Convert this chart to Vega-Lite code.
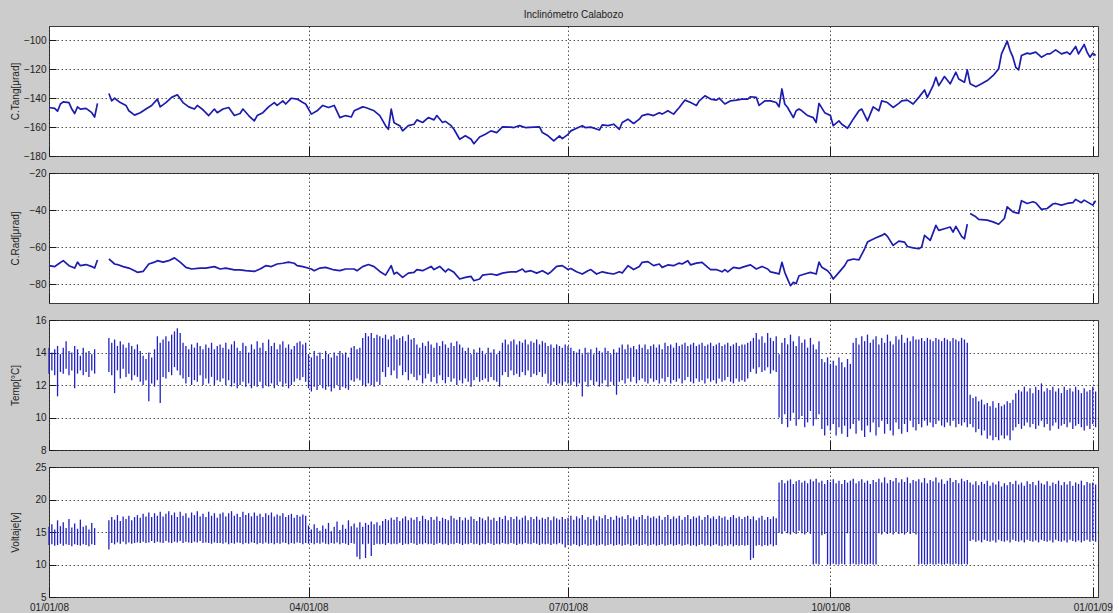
{
"$schema": "https://vega.github.io/schema/vega-lite/v6.json",
"background": "#cccccc",
"padding": {"left": 9, "top": 9, "right": 0, "bottom": 0},
"spacing": 17,
"bounds": "flush",
"config": {
  "font": "Liberation Sans",
  "view": {"fill": "#ffffff", "stroke": "#3a3a3a", "strokeWidth": 1},
  "axis": {
    "domain": false,
    "grid": true, "gridColor": "#1a1a1a", "gridDash": [1.5, 2.5], "gridWidth": 1, "gridOpacity": 0.75,
    "ticks": true, "tickColor": "#1a1a1a", "tickWidth": 1,
    "labelFont": "Liberation Sans", "labelFontSize": 10, "labelColor": "#222222",
    "labelFlush": false, "labelOverlap": false, "labelBound": false,
    "titleFont": "Liberation Sans", "titleFontSize": 10, "titleFontWeight": "normal", "titleColor": "#222222"
  },
  "axisY": {"tickSize": -7, "labelPadding": 10, "minExtent": 23, "maxExtent": 23, "titlePadding": 6},
  "axisX": {"tickSize": -10, "labelPadding": 15}
},
"datasets": {
"tang": [
{"d":"2008-01-01","v":-146.4,"s":1},{"d":"2008-01-03","v":-147,"s":1},{"d":"2008-01-04","v":-149,"s":1},{"d":"2008-01-05","v":-144,"s":1},{"d":"2008-01-06","v":-142.5,"s":1},{"d":"2008-01-08","v":-143,"s":1},{"d":"2008-01-09","v":-147.5,"s":1},{"d":"2008-01-10","v":-150.6,"s":1},{"d":"2008-01-11","v":-146,"s":1},{"d":"2008-01-12","v":-147.5,"s":1},{"d":"2008-01-14","v":-147,"s":1},{"d":"2008-01-16","v":-150,"s":1},{"d":"2008-01-17","v":-153,"s":1},{"d":"2008-01-18","v":-143.6,"s":1},
{"d":"2008-01-22","v":-136.7,"s":2},{"d":"2008-01-23","v":-141.8,"s":2},{"d":"2008-01-24","v":-140,"s":2},{"d":"2008-01-26","v":-143,"s":2},{"d":"2008-01-28","v":-145,"s":2},{"d":"2008-01-29","v":-148.7,"s":2},{"d":"2008-01-31","v":-151.7,"s":2},{"d":"2008-02-02","v":-150,"s":2},{"d":"2008-02-04","v":-147.5,"s":2},{"d":"2008-02-06","v":-145,"s":2},{"d":"2008-02-08","v":-140.6,"s":2},{"d":"2008-02-09","v":-146,"s":2},{"d":"2008-02-11","v":-143,"s":2},{"d":"2008-02-13","v":-139.4,"s":2},{"d":"2008-02-15","v":-137.6,"s":2},{"d":"2008-02-17","v":-143,"s":2},{"d":"2008-02-19","v":-146,"s":2},{"d":"2008-02-21","v":-147.5,"s":2},{"d":"2008-02-22","v":-145,"s":2},{"d":"2008-02-24","v":-148,"s":2},{"d":"2008-02-26","v":-152,"s":2},{"d":"2008-02-28","v":-147.5,"s":2},{"d":"2008-02-29","v":-150,"s":2},
{"d":"2008-03-02","v":-147.5,"s":2},{"d":"2008-03-04","v":-146.4,"s":2},{"d":"2008-03-06","v":-152,"s":2},{"d":"2008-03-08","v":-150.6,"s":2},{"d":"2008-03-09","v":-147.5,"s":2},{"d":"2008-03-11","v":-152,"s":2},{"d":"2008-03-13","v":-155.7,"s":2},{"d":"2008-03-14","v":-152,"s":2},{"d":"2008-03-16","v":-150,"s":2},{"d":"2008-03-18","v":-146,"s":2},{"d":"2008-03-20","v":-143,"s":2},{"d":"2008-03-21","v":-145,"s":2},{"d":"2008-03-23","v":-141.8,"s":2},{"d":"2008-03-24","v":-144,"s":2},{"d":"2008-03-26","v":-140,"s":2},{"d":"2008-03-28","v":-140.6,"s":2},{"d":"2008-03-30","v":-143,"s":2},{"d":"2008-03-31","v":-144,"s":2},
{"d":"2008-04-02","v":-151,"s":2},{"d":"2008-04-04","v":-148.7,"s":2},{"d":"2008-04-06","v":-145,"s":2},{"d":"2008-04-08","v":-146.4,"s":2},{"d":"2008-04-10","v":-145,"s":2},{"d":"2008-04-12","v":-153.4,"s":2},{"d":"2008-04-14","v":-152,"s":2},{"d":"2008-04-16","v":-153,"s":2},{"d":"2008-04-17","v":-148.7,"s":2},{"d":"2008-04-20","v":-146,"s":2},{"d":"2008-04-21","v":-146.4,"s":2},{"d":"2008-04-24","v":-148.7,"s":2},{"d":"2008-04-26","v":-152,"s":2},{"d":"2008-04-28","v":-159,"s":2},{"d":"2008-04-29","v":-161.5,"s":2},{"d":"2008-04-30","v":-147.5,"s":2},
{"d":"2008-05-01","v":-157,"s":2},{"d":"2008-05-03","v":-159,"s":2},{"d":"2008-05-04","v":-162.6,"s":2},{"d":"2008-05-06","v":-159,"s":2},{"d":"2008-05-08","v":-158,"s":2},{"d":"2008-05-09","v":-155,"s":2},{"d":"2008-05-11","v":-156.8,"s":2},{"d":"2008-05-13","v":-153.4,"s":2},{"d":"2008-05-15","v":-155,"s":2},{"d":"2008-05-16","v":-152,"s":2},{"d":"2008-05-18","v":-156.8,"s":2},{"d":"2008-05-19","v":-156,"s":2},{"d":"2008-05-21","v":-159,"s":2},{"d":"2008-05-22","v":-161.5,"s":2},{"d":"2008-05-24","v":-168.4,"s":2},{"d":"2008-05-26","v":-166,"s":2},{"d":"2008-05-28","v":-168.4,"s":2},{"d":"2008-05-29","v":-171.5,"s":2},{"d":"2008-05-31","v":-166.8,"s":2},
{"d":"2008-06-02","v":-165,"s":2},{"d":"2008-06-04","v":-162.6,"s":2},{"d":"2008-06-06","v":-163.8,"s":2},{"d":"2008-06-08","v":-159.9,"s":2},{"d":"2008-06-11","v":-160,"s":2},{"d":"2008-06-12","v":-160.3,"s":2},{"d":"2008-06-14","v":-159,"s":2},{"d":"2008-06-16","v":-160.3,"s":2},{"d":"2008-06-19","v":-160,"s":2},{"d":"2008-06-21","v":-159.9,"s":2},{"d":"2008-06-22","v":-163.8,"s":2},{"d":"2008-06-24","v":-166,"s":2},{"d":"2008-06-26","v":-169.6,"s":2},{"d":"2008-06-28","v":-166,"s":2},{"d":"2008-06-29","v":-168,"s":2},
{"d":"2008-07-01","v":-165,"s":2},{"d":"2008-07-02","v":-162.6,"s":2},{"d":"2008-07-04","v":-160.8,"s":2},{"d":"2008-07-06","v":-159,"s":2},{"d":"2008-07-07","v":-160.3,"s":2},{"d":"2008-07-09","v":-160,"s":2},{"d":"2008-07-12","v":-162,"s":2},{"d":"2008-07-13","v":-158.5,"s":2},{"d":"2008-07-15","v":-159,"s":2},{"d":"2008-07-17","v":-158,"s":2},{"d":"2008-07-19","v":-161.5,"s":2},{"d":"2008-07-20","v":-156.8,"s":2},{"d":"2008-07-22","v":-154.5,"s":2},{"d":"2008-07-24","v":-157.5,"s":2},{"d":"2008-07-26","v":-154.5,"s":2},{"d":"2008-07-27","v":-152,"s":2},{"d":"2008-07-29","v":-151,"s":2},{"d":"2008-07-31","v":-152,"s":2},
{"d":"2008-08-02","v":-150,"s":2},{"d":"2008-08-03","v":-151,"s":2},{"d":"2008-08-05","v":-148.7,"s":2},{"d":"2008-08-07","v":-151,"s":2},{"d":"2008-08-09","v":-146.4,"s":2},{"d":"2008-08-11","v":-141.3,"s":2},{"d":"2008-08-13","v":-143,"s":2},{"d":"2008-08-15","v":-145,"s":2},{"d":"2008-08-16","v":-141.8,"s":2},{"d":"2008-08-18","v":-138.3,"s":2},{"d":"2008-08-20","v":-140.6,"s":2},{"d":"2008-08-22","v":-141.3,"s":2},{"d":"2008-08-23","v":-140,"s":2},{"d":"2008-08-25","v":-144,"s":2},{"d":"2008-08-27","v":-141.8,"s":2},{"d":"2008-08-29","v":-141.3,"s":2},{"d":"2008-08-31","v":-140.6,"s":2},
{"d":"2008-09-02","v":-140.6,"s":2},{"d":"2008-09-03","v":-139,"s":2},{"d":"2008-09-05","v":-139.4,"s":2},{"d":"2008-09-06","v":-145,"s":2},{"d":"2008-09-08","v":-141.8,"s":2},{"d":"2008-09-10","v":-141.8,"s":2},{"d":"2008-09-12","v":-143,"s":2},{"d":"2008-09-13","v":-146,"s":2},{"d":"2008-09-14","v":-133.6,"s":2},{"d":"2008-09-15","v":-144,"s":2},{"d":"2008-09-16","v":-146.4,"s":2},{"d":"2008-09-18","v":-153.4,"s":2},{"d":"2008-09-19","v":-148.7,"s":2},{"d":"2008-09-20","v":-147.5,"s":2},{"d":"2008-09-21","v":-148.7,"s":2},{"d":"2008-09-23","v":-152,"s":2},{"d":"2008-09-25","v":-153.4,"s":2},{"d":"2008-09-26","v":-156.8,"s":2},{"d":"2008-09-27","v":-143.6,"s":2},{"d":"2008-09-29","v":-150,"s":2},
{"d":"2008-10-01","v":-152,"s":2},{"d":"2008-10-02","v":-159,"s":2},{"d":"2008-10-04","v":-155.7,"s":2},{"d":"2008-10-05","v":-158,"s":2},{"d":"2008-10-07","v":-160.8,"s":2},{"d":"2008-10-09","v":-154.5,"s":2},{"d":"2008-10-11","v":-148.7,"s":2},{"d":"2008-10-12","v":-147.5,"s":2},{"d":"2008-10-14","v":-155.7,"s":2},{"d":"2008-10-16","v":-146,"s":2},{"d":"2008-10-18","v":-148.7,"s":2},{"d":"2008-10-19","v":-141.8,"s":2},{"d":"2008-10-21","v":-143,"s":2},{"d":"2008-10-23","v":-146.4,"s":2},{"d":"2008-10-25","v":-143.6,"s":2},{"d":"2008-10-26","v":-141.8,"s":2},{"d":"2008-10-28","v":-141.3,"s":2},{"d":"2008-10-30","v":-144,"s":2},
{"d":"2008-11-01","v":-139.4,"s":2},{"d":"2008-11-03","v":-134.3,"s":2},{"d":"2008-11-04","v":-139.4,"s":2},{"d":"2008-11-06","v":-131.3,"s":2},{"d":"2008-11-07","v":-125.5,"s":2},{"d":"2008-11-08","v":-131.3,"s":2},{"d":"2008-11-10","v":-125,"s":2},{"d":"2008-11-12","v":-130,"s":2},{"d":"2008-11-14","v":-122,"s":2},{"d":"2008-11-15","v":-126.7,"s":2},{"d":"2008-11-17","v":-129,"s":2},{"d":"2008-11-18","v":-120.4,"s":2},{"d":"2008-11-19","v":-130,"s":2},{"d":"2008-11-21","v":-132,"s":2},{"d":"2008-11-23","v":-130,"s":2},{"d":"2008-11-25","v":-127.8,"s":2},{"d":"2008-11-27","v":-124.4,"s":2},{"d":"2008-11-29","v":-119.7,"s":2},{"d":"2008-11-30","v":-109.3,"s":2},
{"d":"2008-12-02","v":-100.5,"s":2},{"d":"2008-12-03","v":-107,"s":2},{"d":"2008-12-04","v":-111.6,"s":2},{"d":"2008-12-05","v":-118.6,"s":2},{"d":"2008-12-06","v":-120.4,"s":2},{"d":"2008-12-07","v":-110.4,"s":2},{"d":"2008-12-09","v":-108.8,"s":2},{"d":"2008-12-10","v":-109.3,"s":2},{"d":"2008-12-12","v":-108.1,"s":2},{"d":"2008-12-14","v":-111.6,"s":2},{"d":"2008-12-16","v":-109.3,"s":2},{"d":"2008-12-17","v":-109.3,"s":2},{"d":"2008-12-19","v":-106.5,"s":2},{"d":"2008-12-21","v":-109.3,"s":2},{"d":"2008-12-23","v":-108.1,"s":2},{"d":"2008-12-24","v":-109.7,"s":2},{"d":"2008-12-26","v":-104.2,"s":2},{"d":"2008-12-27","v":-109.3,"s":2},{"d":"2008-12-29","v":-102.8,"s":2},{"d":"2008-12-30","v":-108.1,"s":2},{"d":"2008-12-31","v":-111.6,"s":2},{"d":"2009-01-01","v":-108.8,"s":2},{"d":"2009-01-02","v":-110.4,"s":2}
],
"rad": [
{"d":"2008-01-01","v":-69.9,"s":1},{"d":"2008-01-03","v":-70.4,"s":1},{"d":"2008-01-04","v":-69.3,"s":1},{"d":"2008-01-06","v":-67.2,"s":1},{"d":"2008-01-08","v":-69.9,"s":1},{"d":"2008-01-10","v":-71.2,"s":1},{"d":"2008-01-11","v":-68,"s":1},{"d":"2008-01-12","v":-69.9,"s":1},{"d":"2008-01-14","v":-69.3,"s":1},{"d":"2008-01-16","v":-70.4,"s":1},{"d":"2008-01-17","v":-71.2,"s":1},{"d":"2008-01-18","v":-66.8,"s":1},
{"d":"2008-01-22","v":-66.3,"s":2},{"d":"2008-01-24","v":-69,"s":2},{"d":"2008-01-25","v":-69.3,"s":2},{"d":"2008-01-27","v":-70.4,"s":2},{"d":"2008-01-29","v":-71.2,"s":2},{"d":"2008-01-31","v":-72.6,"s":2},{"d":"2008-02-01","v":-73.5,"s":2},{"d":"2008-02-03","v":-73,"s":2},{"d":"2008-02-05","v":-69,"s":2},{"d":"2008-02-07","v":-68,"s":2},{"d":"2008-02-08","v":-67.2,"s":2},{"d":"2008-02-10","v":-68,"s":2},{"d":"2008-02-12","v":-67.2,"s":2},{"d":"2008-02-14","v":-65.7,"s":2},{"d":"2008-02-16","v":-68,"s":2},{"d":"2008-02-18","v":-70.8,"s":2},{"d":"2008-02-20","v":-71.7,"s":2},{"d":"2008-02-23","v":-71.2,"s":2},{"d":"2008-02-25","v":-71.2,"s":2},{"d":"2008-02-28","v":-70.4,"s":2},
{"d":"2008-03-01","v":-71.7,"s":2},{"d":"2008-03-03","v":-71.2,"s":2},{"d":"2008-03-06","v":-72.2,"s":2},{"d":"2008-03-08","v":-72.2,"s":2},{"d":"2008-03-10","v":-72.6,"s":2},{"d":"2008-03-13","v":-73,"s":2},{"d":"2008-03-15","v":-71.7,"s":2},{"d":"2008-03-17","v":-69.9,"s":2},{"d":"2008-03-19","v":-70.4,"s":2},{"d":"2008-03-21","v":-69,"s":2},{"d":"2008-03-23","v":-68.6,"s":2},{"d":"2008-03-25","v":-68,"s":2},{"d":"2008-03-27","v":-68.6,"s":2},{"d":"2008-03-28","v":-69.9,"s":2},{"d":"2008-03-30","v":-70.4,"s":2},
{"d":"2008-04-02","v":-71.7,"s":2},{"d":"2008-04-03","v":-72.6,"s":2},{"d":"2008-04-05","v":-71.2,"s":2},{"d":"2008-04-07","v":-70.8,"s":2},{"d":"2008-04-10","v":-72.2,"s":2},{"d":"2008-04-12","v":-72.6,"s":2},{"d":"2008-04-14","v":-71.7,"s":2},{"d":"2008-04-17","v":-71.7,"s":2},{"d":"2008-04-18","v":-72.6,"s":2},{"d":"2008-04-20","v":-70.4,"s":2},{"d":"2008-04-22","v":-69.3,"s":2},{"d":"2008-04-24","v":-70.4,"s":2},{"d":"2008-04-26","v":-73,"s":2},{"d":"2008-04-28","v":-75,"s":2},{"d":"2008-04-30","v":-69.9,"s":2},
{"d":"2008-05-01","v":-74.4,"s":2},{"d":"2008-05-02","v":-73.5,"s":2},{"d":"2008-05-04","v":-76.2,"s":2},{"d":"2008-05-06","v":-73.9,"s":2},{"d":"2008-05-08","v":-73.5,"s":2},{"d":"2008-05-09","v":-72,"s":2},{"d":"2008-05-11","v":-72.6,"s":2},{"d":"2008-05-14","v":-70.3,"s":2},{"d":"2008-05-15","v":-72,"s":2},{"d":"2008-05-17","v":-70.3,"s":2},{"d":"2008-05-19","v":-73.2,"s":2},{"d":"2008-05-20","v":-71.7,"s":2},{"d":"2008-05-22","v":-73.5,"s":2},{"d":"2008-05-24","v":-77.1,"s":2},{"d":"2008-05-26","v":-76.2,"s":2},{"d":"2008-05-28","v":-75.7,"s":2},{"d":"2008-05-29","v":-78,"s":2},{"d":"2008-05-31","v":-77.1,"s":2},
{"d":"2008-06-01","v":-75,"s":2},{"d":"2008-06-04","v":-74.4,"s":2},{"d":"2008-06-06","v":-75,"s":2},{"d":"2008-06-08","v":-73.9,"s":2},{"d":"2008-06-11","v":-73.2,"s":2},{"d":"2008-06-13","v":-73.2,"s":2},{"d":"2008-06-15","v":-71.7,"s":2},{"d":"2008-06-16","v":-73.2,"s":2},{"d":"2008-06-18","v":-72.6,"s":2},{"d":"2008-06-20","v":-73.9,"s":2},{"d":"2008-06-22","v":-72.6,"s":2},{"d":"2008-06-24","v":-74.4,"s":2},{"d":"2008-06-25","v":-73.2,"s":2},{"d":"2008-06-27","v":-70.3,"s":2},{"d":"2008-06-29","v":-69.9,"s":2},
{"d":"2008-07-01","v":-72,"s":2},{"d":"2008-07-02","v":-71.4,"s":2},{"d":"2008-07-04","v":-73.2,"s":2},{"d":"2008-07-06","v":-74.4,"s":2},{"d":"2008-07-08","v":-72.6,"s":2},{"d":"2008-07-09","v":-72,"s":2},{"d":"2008-07-11","v":-74.4,"s":2},{"d":"2008-07-13","v":-73.2,"s":2},{"d":"2008-07-15","v":-73.9,"s":2},{"d":"2008-07-17","v":-74.4,"s":2},{"d":"2008-07-19","v":-73.2,"s":2},{"d":"2008-07-20","v":-73.9,"s":2},{"d":"2008-07-22","v":-69.9,"s":2},{"d":"2008-07-24","v":-72,"s":2},{"d":"2008-07-26","v":-70.3,"s":2},{"d":"2008-07-27","v":-68.1,"s":2},{"d":"2008-07-29","v":-67.7,"s":2},{"d":"2008-07-31","v":-69.9,"s":2},
{"d":"2008-08-02","v":-69,"s":2},{"d":"2008-08-03","v":-70.8,"s":2},{"d":"2008-08-05","v":-69.5,"s":2},{"d":"2008-08-07","v":-69.9,"s":2},{"d":"2008-08-09","v":-68.5,"s":2},{"d":"2008-08-10","v":-69,"s":2},{"d":"2008-08-12","v":-67.2,"s":2},{"d":"2008-08-13","v":-69.5,"s":2},{"d":"2008-08-15","v":-68.5,"s":2},{"d":"2008-08-17","v":-68.1,"s":2},{"d":"2008-08-19","v":-70.8,"s":2},{"d":"2008-08-20","v":-72,"s":2},{"d":"2008-08-22","v":-72,"s":2},{"d":"2008-08-24","v":-73.2,"s":2},{"d":"2008-08-25","v":-72,"s":2},{"d":"2008-08-26","v":-73.2,"s":2},{"d":"2008-08-28","v":-70.8,"s":2},{"d":"2008-08-30","v":-71.4,"s":2},{"d":"2008-08-31","v":-70.8,"s":2},
{"d":"2008-09-02","v":-69.9,"s":2},{"d":"2008-09-03","v":-69.5,"s":2},{"d":"2008-09-05","v":-71.7,"s":2},{"d":"2008-09-07","v":-70.3,"s":2},{"d":"2008-09-09","v":-71.7,"s":2},{"d":"2008-09-10","v":-73.2,"s":2},{"d":"2008-09-12","v":-73.9,"s":2},{"d":"2008-09-13","v":-74.4,"s":2},{"d":"2008-09-14","v":-68.1,"s":2},{"d":"2008-09-15","v":-73.5,"s":2},{"d":"2008-09-16","v":-77.1,"s":2},{"d":"2008-09-17","v":-80.7,"s":2},{"d":"2008-09-18","v":-78.9,"s":2},{"d":"2008-09-19","v":-79.5,"s":2},{"d":"2008-09-20","v":-75.3,"s":2},{"d":"2008-09-22","v":-74.4,"s":2},{"d":"2008-09-24","v":-73.5,"s":2},{"d":"2008-09-26","v":-74.4,"s":2},{"d":"2008-09-27","v":-68,"s":2},{"d":"2008-09-28","v":-70.8,"s":2},{"d":"2008-09-30","v":-72.6,"s":2},
{"d":"2008-10-01","v":-74.4,"s":2},{"d":"2008-10-02","v":-77.1,"s":2},{"d":"2008-10-04","v":-73.5,"s":2},{"d":"2008-10-06","v":-69.9,"s":2},{"d":"2008-10-07","v":-67.2,"s":2},{"d":"2008-10-09","v":-66.3,"s":2},{"d":"2008-10-11","v":-66.8,"s":2},{"d":"2008-10-13","v":-60.8,"s":2},{"d":"2008-10-14","v":-57.2,"s":2},{"d":"2008-10-15","v":-56.3,"s":2},{"d":"2008-10-17","v":-54.9,"s":2},{"d":"2008-10-19","v":-53.6,"s":2},{"d":"2008-10-20","v":-52.7,"s":2},{"d":"2008-10-21","v":-54.1,"s":2},{"d":"2008-10-23","v":-59,"s":2},{"d":"2008-10-25","v":-56.7,"s":2},{"d":"2008-10-27","v":-57.2,"s":2},{"d":"2008-10-28","v":-59.6,"s":2},{"d":"2008-10-30","v":-60.3,"s":2},
{"d":"2008-11-01","v":-60.8,"s":2},{"d":"2008-11-02","v":-59.9,"s":2},{"d":"2008-11-03","v":-53.6,"s":2},{"d":"2008-11-05","v":-56.3,"s":2},{"d":"2008-11-07","v":-48.2,"s":2},{"d":"2008-11-08","v":-50.9,"s":2},{"d":"2008-11-10","v":-50,"s":2},{"d":"2008-11-12","v":-49.1,"s":2},{"d":"2008-11-13","v":-51.8,"s":2},{"d":"2008-11-14","v":-48.7,"s":2},{"d":"2008-11-16","v":-54.1,"s":2},{"d":"2008-11-17","v":-55.4,"s":2},{"d":"2008-11-18","v":-47.5,"s":2},
{"d":"2008-11-19","v":-41.8,"s":3},{"d":"2008-11-21","v":-43.6,"s":3},{"d":"2008-11-22","v":-45,"s":3},{"d":"2008-11-25","v":-45.4,"s":3},{"d":"2008-11-27","v":-46.3,"s":3},{"d":"2008-11-29","v":-47.6,"s":3},{"d":"2008-12-01","v":-44.5,"s":3},{"d":"2008-12-02","v":-38.2,"s":3},{"d":"2008-12-04","v":-40.9,"s":3},{"d":"2008-12-06","v":-41.8,"s":3},{"d":"2008-12-07","v":-34.9,"s":3},{"d":"2008-12-09","v":-36.4,"s":3},{"d":"2008-12-11","v":-35.5,"s":3},{"d":"2008-12-12","v":-36,"s":3},{"d":"2008-12-14","v":-39.6,"s":3},{"d":"2008-12-16","v":-39.1,"s":3},{"d":"2008-12-18","v":-36.7,"s":3},{"d":"2008-12-19","v":-36.4,"s":3},{"d":"2008-12-21","v":-37.3,"s":3},{"d":"2008-12-23","v":-36.4,"s":3},{"d":"2008-12-25","v":-36,"s":3},{"d":"2008-12-26","v":-34.2,"s":3},{"d":"2008-12-28","v":-36,"s":3},{"d":"2008-12-29","v":-34.6,"s":3},{"d":"2009-01-01","v":-37.3,"s":3},{"d":"2009-01-02","v":-34.9,"s":3}
],
"daily": [
{"d":"2008-01-01","tl":12.7,"th":14.3,"vl":13.0,"vh":15.8},{"d":"2008-01-02","tl":12.9,"th":14.0,"vl":13.1,"vh":16.2},{"d":"2008-01-03","tl":12.6,"th":14.2,"vl":12.9,"vh":15.4},{"d":"2008-01-04","tl":11.3,"th":14.4,"vl":13.0,"vh":16.8},{"d":"2008-01-05","tl":12.8,"th":13.9,"vl":13.2,"vh":15.9},{"d":"2008-01-06","tl":12.7,"th":14.3,"vl":12.9,"vh":16.5},{"d":"2008-01-07","tl":13.0,"th":14.7,"vl":13.1,"vh":15.6},{"d":"2008-01-08","tl":12.6,"th":14.1,"vl":13.0,"vh":17.0},{"d":"2008-01-09","tl":12.9,"th":14.0,"vl":12.8,"vh":15.7},{"d":"2008-01-10","tl":11.8,"th":14.4,"vl":13.1,"vh":16.3},{"d":"2008-01-11","tl":12.7,"th":14.2,"vl":13.0,"vh":15.5},{"d":"2008-01-12","tl":12.9,"th":13.8,"vl":12.9,"vh":16.9},{"d":"2008-01-13","tl":12.6,"th":14.3,"vl":13.1,"vh":15.8},{"d":"2008-01-14","tl":12.8,"th":14.0,"vl":13.0,"vh":16.0},{"d":"2008-01-15","tl":12.5,"th":14.1,"vl":12.8,"vh":15.4},{"d":"2008-01-16","tl":12.9,"th":13.9,"vl":13.1,"vh":16.4},{"d":"2008-01-17","tl":12.7,"th":14.2,"vl":13.0,"vh":15.6},
{"d":"2008-01-22","tl":12.8,"th":14.9,"vl":12.3,"vh":16.8},{"d":"2008-01-23","tl":12.6,"th":14.6,"vl":13.3,"vh":17.3},{"d":"2008-01-24","tl":11.5,"th":14.8,"vl":13.1,"vh":16.9},{"d":"2008-01-25","tl":12.9,"th":14.4,"vl":13.4,"vh":17.6},{"d":"2008-01-26","tl":12.4,"th":14.7,"vl":13.2,"vh":16.7},{"d":"2008-01-27","tl":13.0,"th":14.5,"vl":13.5,"vh":17.4},{"d":"2008-01-28","tl":12.5,"th":14.3,"vl":13.1,"vh":17.0},{"d":"2008-01-29","tl":12.7,"th":14.6,"vl":13.4,"vh":17.5},{"d":"2008-01-30","tl":12.3,"th":14.4,"vl":13.2,"vh":16.8},{"d":"2008-01-31","tl":12.6,"th":14.2,"vl":13.3,"vh":17.3},
{"d":"2008-02-01","tl":12.5,"th":14.5,"vl":13.4,"vh":17.6},{"d":"2008-02-02","tl":12.2,"th":14.1,"vl":13.3,"vh":17.2},{"d":"2008-02-03","tl":12.0,"th":13.8,"vl":13.5,"vh":17.8},{"d":"2008-02-04","tl":12.3,"th":13.6,"vl":13.3,"vh":17.4},{"d":"2008-02-05","tl":11.0,"th":14.0,"vl":13.4,"vh":18.0},{"d":"2008-02-06","tl":12.1,"th":13.7,"vl":13.6,"vh":17.3},{"d":"2008-02-07","tl":11.9,"th":14.2,"vl":13.3,"vh":17.9},{"d":"2008-02-08","tl":12.3,"th":15.0,"vl":13.5,"vh":17.5},{"d":"2008-02-09","tl":10.9,"th":14.6,"vl":13.4,"vh":18.1},{"d":"2008-02-10","tl":12.5,"th":14.8,"vl":13.3,"vh":17.4},{"d":"2008-02-11","tl":12.4,"th":15.0,"vl":13.6,"vh":17.8},{"d":"2008-02-12","tl":12.8,"th":14.7,"vl":13.4,"vh":18.2},{"d":"2008-02-13","tl":12.6,"th":15.1,"vl":13.3,"vh":17.6},{"d":"2008-02-14","tl":13.1,"th":15.3,"vl":13.5,"vh":18.0},{"d":"2008-02-15","tl":12.9,"th":15.5,"vl":13.4,"vh":17.3},{"d":"2008-02-16","tl":12.6,"th":15.2,"vl":13.6,"vh":18.1},{"d":"2008-02-17","tl":12.4,"th":14.6,"vl":13.3,"vh":17.5},{"d":"2008-02-18","tl":12.1,"th":14.4,"vl":13.5,"vh":17.9},{"d":"2008-02-19","tl":12.5,"th":14.2,"vl":13.4,"vh":17.2},{"d":"2008-02-20","tl":12.0,"th":14.5,"vl":13.3,"vh":18.0},{"d":"2008-02-21","tl":12.3,"th":14.3,"vl":13.5,"vh":17.6},{"d":"2008-02-22","tl":12.2,"th":14.6,"vl":13.4,"vh":18.2},{"d":"2008-02-23","tl":12.6,"th":14.4,"vl":13.6,"vh":17.4},{"d":"2008-02-24","tl":12.0,"th":14.2,"vl":13.3,"vh":17.8},{"d":"2008-02-25","tl":12.4,"th":14.5,"vl":13.4,"vh":17.3},{"d":"2008-02-26","tl":12.1,"th":14.3,"vl":13.3,"vh":18.1},{"d":"2008-02-27","tl":12.5,"th":14.6,"vl":13.2,"vh":17.5},{"d":"2008-02-28","tl":12.0,"th":14.2,"vl":13.4,"vh":17.9},{"d":"2008-02-29","tl":12.3,"th":14.4,"vl":13.3,"vh":17.2},
{"d":"2008-03-01","tl":12.2,"th":14.5,"vl":13.3,"vh":17.8},{"d":"2008-03-02","tl":12.4,"th":14.3,"vl":13.2,"vh":18.0},{"d":"2008-03-03","tl":12.0,"th":14.6,"vl":13.4,"vh":17.4},{"d":"2008-03-04","tl":12.3,"th":14.2,"vl":13.1,"vh":17.9},{"d":"2008-03-05","tl":11.9,"th":14.5,"vl":13.3,"vh":18.2},{"d":"2008-03-06","tl":12.1,"th":14.7,"vl":13.2,"vh":17.5},{"d":"2008-03-07","tl":11.8,"th":14.3,"vl":13.4,"vh":17.8},{"d":"2008-03-08","tl":12.0,"th":14.1,"vl":13.3,"vh":17.3},{"d":"2008-03-09","tl":12.2,"th":14.6,"vl":13.1,"vh":18.1},{"d":"2008-03-10","tl":11.9,"th":14.4,"vl":13.3,"vh":17.6},{"d":"2008-03-11","tl":12.1,"th":14.0,"vl":13.2,"vh":17.9},{"d":"2008-03-12","tl":11.8,"th":14.5,"vl":13.4,"vh":17.4},{"d":"2008-03-13","tl":12.0,"th":14.2,"vl":13.3,"vh":18.0},{"d":"2008-03-14","tl":11.9,"th":14.7,"vl":13.1,"vh":17.5},{"d":"2008-03-15","tl":12.2,"th":14.3,"vl":13.3,"vh":17.8},{"d":"2008-03-16","tl":11.8,"th":14.6,"vl":13.2,"vh":17.3},{"d":"2008-03-17","tl":12.0,"th":14.1,"vl":13.4,"vh":17.9},{"d":"2008-03-18","tl":11.9,"th":14.8,"vl":13.2,"vh":17.6},{"d":"2008-03-19","tl":12.1,"th":14.4,"vl":13.3,"vh":18.0},{"d":"2008-03-20","tl":11.8,"th":14.6,"vl":13.1,"vh":17.4},{"d":"2008-03-21","tl":12.0,"th":14.2,"vl":13.3,"vh":17.7},{"d":"2008-03-22","tl":12.2,"th":14.5,"vl":13.2,"vh":17.5},{"d":"2008-03-23","tl":11.9,"th":14.7,"vl":13.4,"vh":17.9},{"d":"2008-03-24","tl":12.1,"th":14.3,"vl":13.3,"vh":17.3},{"d":"2008-03-25","tl":11.8,"th":14.5,"vl":13.1,"vh":17.6},{"d":"2008-03-26","tl":12.0,"th":14.2,"vl":13.3,"vh":17.8},{"d":"2008-03-27","tl":12.2,"th":14.4,"vl":13.2,"vh":17.2},{"d":"2008-03-28","tl":12.4,"th":14.6,"vl":13.4,"vh":17.6},{"d":"2008-03-29","tl":12.3,"th":14.7,"vl":13.3,"vh":17.4},{"d":"2008-03-30","tl":12.5,"th":14.5,"vl":13.1,"vh":17.7},{"d":"2008-03-31","tl":12.2,"th":14.6,"vl":13.3,"vh":17.5},
{"d":"2008-04-01","tl":11.8,"th":13.9,"vl":13.2,"vh":16.0},{"d":"2008-04-02","tl":11.6,"th":13.7,"vl":13.3,"vh":15.4},{"d":"2008-04-03","tl":11.9,"th":14.1,"vl":13.1,"vh":16.2},{"d":"2008-04-04","tl":11.7,"th":13.8,"vl":13.3,"vh":15.6},{"d":"2008-04-05","tl":12.0,"th":14.0,"vl":13.2,"vh":15.2},{"d":"2008-04-06","tl":11.8,"th":13.6,"vl":13.4,"vh":16.0},{"d":"2008-04-07","tl":11.7,"th":14.1,"vl":13.2,"vh":15.5},{"d":"2008-04-08","tl":11.9,"th":13.9,"vl":13.1,"vh":16.4},{"d":"2008-04-09","tl":11.6,"th":13.7,"vl":13.3,"vh":15.1},{"d":"2008-04-10","tl":11.8,"th":14.0,"vl":13.2,"vh":15.8},{"d":"2008-04-11","tl":12.0,"th":13.8,"vl":13.4,"vh":16.6},{"d":"2008-04-12","tl":11.7,"th":14.1,"vl":13.1,"vh":15.3},{"d":"2008-04-13","tl":11.9,"th":13.9,"vl":13.3,"vh":16.1},{"d":"2008-04-14","tl":11.8,"th":14.0,"vl":13.2,"vh":15.5},{"d":"2008-04-15","tl":11.7,"th":13.7,"vl":13.0,"vh":16.8},{"d":"2008-04-16","tl":12.3,"th":14.3,"vl":13.3,"vh":15.9},{"d":"2008-04-17","tl":12.2,"th":14.4,"vl":13.2,"vh":16.3},{"d":"2008-04-18","tl":12.4,"th":14.2,"vl":11.2,"vh":15.7},{"d":"2008-04-19","tl":12.3,"th":14.3,"vl":10.8,"vh":16.5},{"d":"2008-04-20","tl":12.0,"th":14.9,"vl":13.1,"vh":15.8},{"d":"2008-04-21","tl":11.9,"th":15.2,"vl":11.0,"vh":16.4},{"d":"2008-04-22","tl":12.1,"th":15.0,"vl":13.2,"vh":16.1},{"d":"2008-04-23","tl":12.0,"th":15.2,"vl":11.3,"vh":16.6},{"d":"2008-04-24","tl":11.9,"th":14.9,"vl":13.0,"vh":16.2},{"d":"2008-04-25","tl":12.2,"th":15.1,"vl":13.2,"vh":16.5},{"d":"2008-04-26","tl":12.0,"th":15.0,"vl":13.1,"vh":16.0},{"d":"2008-04-27","tl":12.8,"th":14.9,"vl":13.2,"vh":16.7},{"d":"2008-04-28","tl":12.5,"th":15.1,"vl":13.0,"vh":17.0},{"d":"2008-04-29","tl":13.1,"th":14.8,"vl":13.3,"vh":16.8},{"d":"2008-04-30","tl":12.6,"th":15.0,"vl":13.1,"vh":17.2},
{"d":"2008-05-01","tl":12.9,"th":15.1,"vl":13.2,"vh":16.9},{"d":"2008-05-02","tl":12.4,"th":14.8,"vl":13.1,"vh":17.3},{"d":"2008-05-03","tl":13.2,"th":14.9,"vl":13.3,"vh":16.7},{"d":"2008-05-04","tl":12.6,"th":15.0,"vl":13.0,"vh":17.1},{"d":"2008-05-05","tl":12.8,"th":14.7,"vl":13.2,"vh":17.4},{"d":"2008-05-06","tl":12.3,"th":15.1,"vl":13.1,"vh":16.8},{"d":"2008-05-07","tl":12.7,"th":14.8,"vl":13.3,"vh":17.2},{"d":"2008-05-08","tl":12.5,"th":14.9,"vl":13.2,"vh":16.9},{"d":"2008-05-09","tl":12.3,"th":14.5,"vl":13.0,"vh":17.3},{"d":"2008-05-10","tl":12.6,"th":14.3,"vl":13.2,"vh":16.7},{"d":"2008-05-11","tl":12.1,"th":14.6,"vl":13.1,"vh":17.5},{"d":"2008-05-12","tl":12.4,"th":14.4,"vl":13.3,"vh":17.0},{"d":"2008-05-13","tl":12.7,"th":14.7,"vl":13.1,"vh":16.8},{"d":"2008-05-14","tl":12.2,"th":14.5,"vl":13.2,"vh":17.3},{"d":"2008-05-15","tl":12.5,"th":14.3,"vl":13.0,"vh":16.9},{"d":"2008-05-16","tl":12.1,"th":14.6,"vl":13.2,"vh":17.4},{"d":"2008-05-17","tl":12.6,"th":14.4,"vl":13.3,"vh":16.7},{"d":"2008-05-18","tl":12.3,"th":14.7,"vl":13.1,"vh":17.2},{"d":"2008-05-19","tl":12.1,"th":14.5,"vl":13.2,"vh":17.0},{"d":"2008-05-20","tl":12.5,"th":14.3,"vl":13.0,"vh":16.8},{"d":"2008-05-21","tl":12.2,"th":14.6,"vl":13.2,"vh":17.5},{"d":"2008-05-22","tl":12.4,"th":14.4,"vl":13.1,"vh":17.1},{"d":"2008-05-23","tl":12.0,"th":14.7,"vl":13.3,"vh":16.9},{"d":"2008-05-24","tl":12.3,"th":14.5,"vl":13.2,"vh":17.3},{"d":"2008-05-25","tl":12.1,"th":14.3,"vl":13.0,"vh":16.8},{"d":"2008-05-26","tl":12.4,"th":14.1,"vl":13.2,"vh":17.2},{"d":"2008-05-27","tl":12.2,"th":14.3,"vl":13.1,"vh":16.9},{"d":"2008-05-28","tl":11.9,"th":13.9,"vl":13.3,"vh":17.4},{"d":"2008-05-29","tl":12.3,"th":14.2,"vl":13.1,"vh":17.0},{"d":"2008-05-30","tl":12.5,"th":14.0,"vl":13.2,"vh":16.7},{"d":"2008-05-31","tl":12.2,"th":14.3,"vl":13.0,"vh":17.3},
{"d":"2008-06-01","tl":12.3,"th":14.1,"vl":13.2,"vh":17.1},{"d":"2008-06-02","tl":12.4,"th":13.9,"vl":13.1,"vh":16.8},{"d":"2008-06-03","tl":12.2,"th":14.3,"vl":13.3,"vh":17.4},{"d":"2008-06-04","tl":12.5,"th":14.0,"vl":13.2,"vh":16.9},{"d":"2008-06-05","tl":12.3,"th":14.2,"vl":13.0,"vh":17.2},{"d":"2008-06-06","tl":12.2,"th":13.9,"vl":13.2,"vh":16.7},{"d":"2008-06-07","tl":11.9,"th":14.1,"vl":13.1,"vh":17.3},{"d":"2008-06-08","tl":12.6,"th":14.6,"vl":13.3,"vh":17.0},{"d":"2008-06-09","tl":12.8,"th":14.8,"vl":13.2,"vh":17.5},{"d":"2008-06-10","tl":12.5,"th":14.5,"vl":13.1,"vh":16.8},{"d":"2008-06-11","tl":12.9,"th":14.7,"vl":13.3,"vh":17.3},{"d":"2008-06-12","tl":12.6,"th":14.8,"vl":13.2,"vh":17.0},{"d":"2008-06-13","tl":12.7,"th":14.5,"vl":13.0,"vh":17.4},{"d":"2008-06-14","tl":12.5,"th":14.7,"vl":13.2,"vh":16.9},{"d":"2008-06-15","tl":12.8,"th":14.6,"vl":13.1,"vh":17.2},{"d":"2008-06-16","tl":12.6,"th":14.8,"vl":13.3,"vh":17.5},{"d":"2008-06-17","tl":12.9,"th":14.5,"vl":13.2,"vh":16.8},{"d":"2008-06-18","tl":12.5,"th":14.7,"vl":13.1,"vh":17.3},{"d":"2008-06-19","tl":12.7,"th":14.6,"vl":13.3,"vh":17.0},{"d":"2008-06-20","tl":12.6,"th":14.8,"vl":13.2,"vh":17.4},{"d":"2008-06-21","tl":12.8,"th":14.5,"vl":13.0,"vh":16.9},{"d":"2008-06-22","tl":12.5,"th":14.7,"vl":13.2,"vh":17.2},{"d":"2008-06-23","tl":12.7,"th":14.6,"vl":13.1,"vh":17.0},{"d":"2008-06-24","tl":12.1,"th":14.4,"vl":13.2,"vh":17.3},{"d":"2008-06-25","tl":12.0,"th":14.5,"vl":13.0,"vh":16.8},{"d":"2008-06-26","tl":12.2,"th":14.3,"vl":13.2,"vh":17.4},{"d":"2008-06-27","tl":12.0,"th":14.5,"vl":13.1,"vh":17.1},{"d":"2008-06-28","tl":12.1,"th":14.4,"vl":13.3,"vh":16.9},{"d":"2008-06-29","tl":12.0,"th":14.3,"vl":13.1,"vh":17.3},{"d":"2008-06-30","tl":12.2,"th":14.5,"vl":12.6,"vh":17.0},
{"d":"2008-07-01","tl":12.1,"th":14.4,"vl":13.0,"vh":17.2},{"d":"2008-07-02","tl":12.0,"th":14.3,"vl":12.9,"vh":17.5},{"d":"2008-07-03","tl":12.2,"th":14.1,"vl":13.1,"vh":16.9},{"d":"2008-07-04","tl":11.9,"th":14.0,"vl":13.0,"vh":17.4},{"d":"2008-07-05","tl":12.1,"th":14.2,"vl":12.8,"vh":17.1},{"d":"2008-07-06","tl":11.3,"th":13.9,"vl":13.0,"vh":17.6},{"d":"2008-07-07","tl":12.2,"th":14.3,"vl":13.1,"vh":16.9},{"d":"2008-07-08","tl":11.9,"th":14.0,"vl":12.9,"vh":17.3},{"d":"2008-07-09","tl":12.3,"th":14.2,"vl":13.0,"vh":17.0},{"d":"2008-07-10","tl":12.0,"th":13.9,"vl":13.1,"vh":17.5},{"d":"2008-07-11","tl":12.2,"th":14.3,"vl":12.9,"vh":16.8},{"d":"2008-07-12","tl":11.9,"th":14.1,"vl":13.0,"vh":17.4},{"d":"2008-07-13","tl":12.1,"th":14.0,"vl":13.1,"vh":17.1},{"d":"2008-07-14","tl":12.3,"th":14.3,"vl":12.9,"vh":17.6},{"d":"2008-07-15","tl":11.9,"th":14.1,"vl":13.0,"vh":17.0},{"d":"2008-07-16","tl":12.2,"th":13.9,"vl":13.1,"vh":17.3},{"d":"2008-07-17","tl":12.0,"th":14.2,"vl":12.9,"vh":16.9},{"d":"2008-07-18","tl":11.4,"th":14.0,"vl":13.0,"vh":17.5},{"d":"2008-07-19","tl":12.2,"th":14.3,"vl":13.1,"vh":17.2},{"d":"2008-07-20","tl":12.3,"th":14.5,"vl":12.9,"vh":17.4},{"d":"2008-07-21","tl":12.1,"th":14.2,"vl":13.0,"vh":17.0},{"d":"2008-07-22","tl":12.4,"th":14.5,"vl":13.1,"vh":17.6},{"d":"2008-07-23","tl":12.2,"th":14.3,"vl":12.9,"vh":17.1},{"d":"2008-07-24","tl":12.5,"th":14.4,"vl":13.0,"vh":17.4},{"d":"2008-07-25","tl":12.1,"th":14.2,"vl":13.1,"vh":16.9},{"d":"2008-07-26","tl":12.3,"th":14.5,"vl":12.9,"vh":17.3},{"d":"2008-07-27","tl":12.4,"th":14.3,"vl":13.0,"vh":17.6},{"d":"2008-07-28","tl":12.2,"th":14.5,"vl":13.1,"vh":17.0},{"d":"2008-07-29","tl":12.1,"th":14.2,"vl":12.9,"vh":17.5},{"d":"2008-07-30","tl":12.4,"th":14.4,"vl":13.0,"vh":17.2},{"d":"2008-07-31","tl":12.2,"th":14.5,"vl":13.1,"vh":17.4},
{"d":"2008-08-01","tl":12.3,"th":14.3,"vl":12.9,"vh":17.1},{"d":"2008-08-02","tl":12.1,"th":14.5,"vl":13.0,"vh":17.5},{"d":"2008-08-03","tl":12.4,"th":14.2,"vl":13.1,"vh":16.9},{"d":"2008-08-04","tl":12.2,"th":14.6,"vl":12.9,"vh":17.3},{"d":"2008-08-05","tl":12.5,"th":14.4,"vl":13.0,"vh":17.6},{"d":"2008-08-06","tl":12.1,"th":14.5,"vl":13.1,"vh":17.0},{"d":"2008-08-07","tl":12.3,"th":14.3,"vl":12.9,"vh":17.4},{"d":"2008-08-08","tl":12.2,"th":14.6,"vl":13.0,"vh":17.1},{"d":"2008-08-09","tl":12.4,"th":14.4,"vl":13.1,"vh":17.5},{"d":"2008-08-10","tl":12.1,"th":14.5,"vl":12.9,"vh":16.9},{"d":"2008-08-11","tl":12.3,"th":14.6,"vl":13.0,"vh":17.3},{"d":"2008-08-12","tl":12.5,"th":14.4,"vl":13.1,"vh":17.6},{"d":"2008-08-13","tl":12.2,"th":14.5,"vl":12.9,"vh":17.0},{"d":"2008-08-14","tl":12.1,"th":14.6,"vl":13.0,"vh":17.4},{"d":"2008-08-15","tl":12.4,"th":14.4,"vl":12.8,"vh":17.2},{"d":"2008-08-16","tl":12.2,"th":14.5,"vl":13.0,"vh":17.5},{"d":"2008-08-17","tl":12.3,"th":14.6,"vl":13.1,"vh":16.9},{"d":"2008-08-18","tl":12.1,"th":14.4,"vl":12.9,"vh":17.3},{"d":"2008-08-19","tl":12.4,"th":14.5,"vl":13.0,"vh":17.6},{"d":"2008-08-20","tl":12.2,"th":14.6,"vl":12.8,"vh":17.1},{"d":"2008-08-21","tl":12.3,"th":14.4,"vl":13.0,"vh":17.4},{"d":"2008-08-22","tl":12.1,"th":14.5,"vl":13.1,"vh":17.0},{"d":"2008-08-23","tl":12.4,"th":14.6,"vl":12.9,"vh":17.5},{"d":"2008-08-24","tl":12.2,"th":14.4,"vl":12.8,"vh":17.2},{"d":"2008-08-25","tl":12.3,"th":14.5,"vl":13.0,"vh":17.4},{"d":"2008-08-26","tl":12.5,"th":14.6,"vl":12.9,"vh":16.9},{"d":"2008-08-27","tl":12.2,"th":14.4,"vl":13.1,"vh":17.3},{"d":"2008-08-28","tl":12.1,"th":14.5,"vl":12.8,"vh":17.6},{"d":"2008-08-29","tl":12.4,"th":14.6,"vl":13.0,"vh":17.1},{"d":"2008-08-30","tl":12.2,"th":14.4,"vl":12.9,"vh":17.4},{"d":"2008-08-31","tl":12.3,"th":14.5,"vl":13.0,"vh":17.0},
{"d":"2008-09-01","tl":12.2,"th":14.5,"vl":12.9,"vh":17.3},{"d":"2008-09-02","tl":12.4,"th":14.6,"vl":13.0,"vh":17.5},{"d":"2008-09-03","tl":12.8,"th":14.7,"vl":10.7,"vh":17.0},{"d":"2008-09-04","tl":13.0,"th":14.9,"vl":11.0,"vh":17.4},{"d":"2008-09-05","tl":12.7,"th":15.2,"vl":12.9,"vh":16.8},{"d":"2008-09-06","tl":13.1,"th":14.8,"vl":13.0,"vh":17.2},{"d":"2008-09-07","tl":12.8,"th":15.0,"vl":12.8,"vh":17.5},{"d":"2008-09-08","tl":12.9,"th":14.6,"vl":13.0,"vh":16.9},{"d":"2008-09-09","tl":13.1,"th":15.2,"vl":12.9,"vh":17.3},{"d":"2008-09-10","tl":12.7,"th":14.9,"vl":13.1,"vh":17.0},{"d":"2008-09-11","tl":12.9,"th":14.7,"vl":12.8,"vh":17.4},{"d":"2008-09-12","tl":12.8,"th":15.0,"vl":13.0,"vh":17.1},{"d":"2008-09-13","tl":10.0,"th":13.9,"vl":14.9,"vh":22.6},{"d":"2008-09-14","tl":9.6,"th":14.6,"vl":14.7,"vh":23.0},{"d":"2008-09-15","tl":10.2,"th":14.9,"vl":15.1,"vh":22.5},{"d":"2008-09-16","tl":9.4,"th":14.5,"vl":14.8,"vh":22.9},{"d":"2008-09-17","tl":9.8,"th":15.1,"vl":14.6,"vh":23.1},{"d":"2008-09-18","tl":10.3,"th":14.7,"vl":15.0,"vh":22.4},{"d":"2008-09-19","tl":9.5,"th":14.4,"vl":14.7,"vh":22.8},{"d":"2008-09-20","tl":9.9,"th":15.0,"vl":15.2,"vh":23.0},{"d":"2008-09-21","tl":10.1,"th":14.6,"vl":14.8,"vh":22.6},{"d":"2008-09-22","tl":9.4,"th":14.8,"vl":14.6,"vh":22.9},{"d":"2008-09-23","tl":9.7,"th":14.3,"vl":15.0,"vh":22.5},{"d":"2008-09-24","tl":10.4,"th":14.9,"vl":14.7,"vh":23.1},{"d":"2008-09-25","tl":9.5,"th":14.5,"vl":10.0,"vh":22.8},{"d":"2008-09-26","tl":9.9,"th":14.2,"vl":10.1,"vh":23.2},{"d":"2008-09-27","tl":10.2,"th":14.7,"vl":10.0,"vh":22.6},{"d":"2008-09-28","tl":9.3,"th":13.6,"vl":14.5,"vh":22.9},{"d":"2008-09-29","tl":8.9,"th":13.4,"vl":14.7,"vh":22.4},{"d":"2008-09-30","tl":9.5,"th":13.7,"vl":10.0,"vh":23.0},
{"d":"2008-10-01","tl":9.2,"th":13.3,"vl":10.0,"vh":22.7},{"d":"2008-10-02","tl":9.6,"th":13.5,"vl":10.1,"vh":23.1},{"d":"2008-10-03","tl":8.9,"th":13.2,"vl":10.0,"vh":22.5},{"d":"2008-10-04","tl":9.4,"th":13.7,"vl":10.0,"vh":22.9},{"d":"2008-10-05","tl":9.0,"th":13.4,"vl":10.1,"vh":22.4},{"d":"2008-10-06","tl":9.5,"th":13.1,"vl":10.0,"vh":23.0},{"d":"2008-10-07","tl":8.8,"th":13.6,"vl":14.8,"vh":22.6},{"d":"2008-10-08","tl":9.3,"th":13.3,"vl":10.0,"vh":22.9},{"d":"2008-10-09","tl":9.6,"th":14.6,"vl":10.1,"vh":23.2},{"d":"2008-10-10","tl":9.0,"th":14.9,"vl":10.0,"vh":22.5},{"d":"2008-10-11","tl":9.8,"th":14.5,"vl":10.0,"vh":22.8},{"d":"2008-10-12","tl":9.2,"th":15.0,"vl":10.1,"vh":23.1},{"d":"2008-10-13","tl":8.8,"th":14.7,"vl":10.0,"vh":22.6},{"d":"2008-10-14","tl":9.5,"th":15.1,"vl":10.0,"vh":22.9},{"d":"2008-10-15","tl":9.1,"th":14.6,"vl":10.1,"vh":22.4},{"d":"2008-10-16","tl":9.7,"th":14.8,"vl":10.0,"vh":23.0},{"d":"2008-10-17","tl":8.9,"th":15.0,"vl":10.0,"vh":22.7},{"d":"2008-10-18","tl":9.4,"th":14.5,"vl":14.8,"vh":23.2},{"d":"2008-10-19","tl":9.8,"th":14.9,"vl":14.6,"vh":22.6},{"d":"2008-10-20","tl":9.0,"th":14.6,"vl":15.0,"vh":23.4},{"d":"2008-10-21","tl":9.6,"th":15.1,"vl":14.7,"vh":22.5},{"d":"2008-10-22","tl":9.2,"th":14.7,"vl":14.9,"vh":23.0},{"d":"2008-10-23","tl":8.9,"th":14.5,"vl":14.6,"vh":22.8},{"d":"2008-10-24","tl":9.7,"th":15.0,"vl":15.0,"vh":23.3},{"d":"2008-10-25","tl":9.3,"th":14.8,"vl":14.7,"vh":22.6},{"d":"2008-10-26","tl":9.0,"th":15.1,"vl":14.8,"vh":23.1},{"d":"2008-10-27","tl":9.6,"th":14.6,"vl":14.6,"vh":22.7},{"d":"2008-10-28","tl":9.1,"th":14.9,"vl":15.0,"vh":23.4},{"d":"2008-10-29","tl":9.8,"th":14.7,"vl":14.7,"vh":22.5},{"d":"2008-10-30","tl":9.4,"th":15.0,"vl":14.9,"vh":23.0},{"d":"2008-10-31","tl":9.2,"th":14.8,"vl":14.6,"vh":22.8},
{"d":"2008-11-01","tl":9.6,"th":14.8,"vl":10.0,"vh":23.1},{"d":"2008-11-02","tl":9.4,"th":14.9,"vl":10.1,"vh":22.6},{"d":"2008-11-03","tl":9.8,"th":14.7,"vl":10.0,"vh":23.3},{"d":"2008-11-04","tl":9.5,"th":14.9,"vl":10.0,"vh":22.5},{"d":"2008-11-05","tl":9.7,"th":14.8,"vl":10.1,"vh":23.0},{"d":"2008-11-06","tl":9.4,"th":14.7,"vl":10.0,"vh":22.8},{"d":"2008-11-07","tl":9.6,"th":14.9,"vl":10.0,"vh":23.4},{"d":"2008-11-08","tl":9.8,"th":14.8,"vl":10.1,"vh":22.6},{"d":"2008-11-09","tl":9.5,"th":14.7,"vl":10.0,"vh":23.1},{"d":"2008-11-10","tl":9.4,"th":14.9,"vl":10.0,"vh":22.4},{"d":"2008-11-11","tl":9.7,"th":14.8,"vl":10.1,"vh":22.9},{"d":"2008-11-12","tl":9.5,"th":14.7,"vl":10.0,"vh":23.3},{"d":"2008-11-13","tl":9.8,"th":14.9,"vl":10.0,"vh":22.7},{"d":"2008-11-14","tl":9.4,"th":14.8,"vl":10.1,"vh":23.0},{"d":"2008-11-15","tl":9.6,"th":14.7,"vl":10.0,"vh":22.5},{"d":"2008-11-16","tl":9.5,"th":14.9,"vl":10.0,"vh":23.2},{"d":"2008-11-17","tl":9.7,"th":14.8,"vl":10.1,"vh":22.8},{"d":"2008-11-18","tl":9.4,"th":14.6,"vl":10.0,"vh":23.0},{"d":"2008-11-19","tl":9.6,"th":11.4,"vl":13.6,"vh":22.6},{"d":"2008-11-20","tl":9.4,"th":11.2,"vl":13.8,"vh":22.3},{"d":"2008-11-21","tl":9.1,"th":11.3,"vl":13.5,"vh":22.8},{"d":"2008-11-22","tl":9.3,"th":11.0,"vl":13.7,"vh":22.2},{"d":"2008-11-23","tl":8.9,"th":11.1,"vl":13.4,"vh":22.7},{"d":"2008-11-24","tl":9.2,"th":10.8,"vl":13.8,"vh":22.4},{"d":"2008-11-25","tl":8.7,"th":10.9,"vl":13.6,"vh":22.9},{"d":"2008-11-26","tl":8.9,"th":10.7,"vl":13.5,"vh":22.1},{"d":"2008-11-27","tl":8.6,"th":11.0,"vl":13.7,"vh":22.6},{"d":"2008-11-28","tl":8.8,"th":10.6,"vl":13.4,"vh":22.3},{"d":"2008-11-29","tl":8.6,"th":10.9,"vl":13.8,"vh":22.8},{"d":"2008-11-30","tl":8.9,"th":10.7,"vl":13.6,"vh":22.0},
{"d":"2008-12-01","tl":8.7,"th":10.8,"vl":13.5,"vh":22.5},{"d":"2008-12-02","tl":8.9,"th":11.0,"vl":13.7,"vh":22.2},{"d":"2008-12-03","tl":8.6,"th":10.9,"vl":13.4,"vh":22.7},{"d":"2008-12-04","tl":9.2,"th":11.1,"vl":13.8,"vh":22.4},{"d":"2008-12-05","tl":9.4,"th":11.5,"vl":13.6,"vh":22.9},{"d":"2008-12-06","tl":9.6,"th":11.7,"vl":13.5,"vh":22.3},{"d":"2008-12-07","tl":9.3,"th":11.6,"vl":13.7,"vh":22.6},{"d":"2008-12-08","tl":9.5,"th":11.9,"vl":13.4,"vh":22.1},{"d":"2008-12-09","tl":9.7,"th":11.6,"vl":13.8,"vh":22.8},{"d":"2008-12-10","tl":9.4,"th":11.8,"vl":13.6,"vh":22.4},{"d":"2008-12-11","tl":9.6,"th":11.5,"vl":13.5,"vh":22.7},{"d":"2008-12-12","tl":9.3,"th":11.9,"vl":13.7,"vh":22.2},{"d":"2008-12-13","tl":9.5,"th":11.7,"vl":13.4,"vh":22.9},{"d":"2008-12-14","tl":9.8,"th":12.1,"vl":13.8,"vh":22.5},{"d":"2008-12-15","tl":9.4,"th":11.6,"vl":13.6,"vh":22.3},{"d":"2008-12-16","tl":9.6,"th":11.8,"vl":13.5,"vh":22.8},{"d":"2008-12-17","tl":9.2,"th":11.7,"vl":13.7,"vh":22.1},{"d":"2008-12-18","tl":9.5,"th":11.9,"vl":13.4,"vh":22.6},{"d":"2008-12-19","tl":9.7,"th":11.6,"vl":13.8,"vh":22.4},{"d":"2008-12-20","tl":9.3,"th":11.8,"vl":13.6,"vh":22.9},{"d":"2008-12-21","tl":9.5,"th":11.5,"vl":13.5,"vh":22.2},{"d":"2008-12-22","tl":9.6,"th":11.9,"vl":13.7,"vh":22.7},{"d":"2008-12-23","tl":9.4,"th":11.7,"vl":13.4,"vh":22.3},{"d":"2008-12-24","tl":9.7,"th":11.8,"vl":13.8,"vh":22.8},{"d":"2008-12-25","tl":9.3,"th":11.6,"vl":13.6,"vh":22.1},{"d":"2008-12-26","tl":9.5,"th":11.9,"vl":13.5,"vh":22.6},{"d":"2008-12-27","tl":9.6,"th":11.7,"vl":13.7,"vh":22.4},{"d":"2008-12-28","tl":9.4,"th":11.5,"vl":13.4,"vh":22.9},{"d":"2008-12-29","tl":9.2,"th":11.8,"vl":13.6,"vh":22.2},{"d":"2008-12-30","tl":9.5,"th":11.6,"vl":13.8,"vh":22.7},{"d":"2008-12-31","tl":9.3,"th":11.7,"vl":13.5,"vh":22.5},{"d":"2009-01-01","tl":9.6,"th":11.9,"vl":13.7,"vh":22.6},{"d":"2009-01-02","tl":9.4,"th":11.6,"vl":13.5,"vh":22.3}
]
},
"vconcat": [
{
  "width": 1049, "height": 130,
  "title": {"text": "Inclinómetro Calabozo", "frame": "group", "anchor": "middle", "fontSize": 10, "fontWeight": "normal", "color": "#222222", "font": "Liberation Sans", "offset": 6},
  "data": {"name": "tang"},
  "mark": {"type": "line", "color": "#1c1cb0", "strokeWidth": 1.7, "strokeJoin": "round"},
  "encoding": {
    "x": {"field": "d", "type": "temporal",
      "scale": {"type": "utc", "domain": [{"year": 2008, "month": 1, "date": 1, "utc": true}, {"year": 2009, "month": 1, "date": 2, "hours": 20, "utc": true}]},
      "axis": {"title": null, "labels": false, "values": [{"year": 2008, "month": 1, "date": 1, "utc": true}, {"year": 2008, "month": 4, "date": 1, "utc": true}, {"year": 2008, "month": 7, "date": 1, "utc": true}, {"year": 2008, "month": 10, "date": 1, "utc": true}, {"year": 2009, "month": 1, "date": 1, "utc": true}]}},
    "y": {"field": "v", "type": "quantitative", "scale": {"domain": [-180, -90]},
      "axis": {"title": "C.Tang[μrad]", "values": [-180, -160, -140, -120, -100]}},
    "detail": {"field": "s", "type": "nominal"}
  }
},
{
  "width": 1049, "height": 130,
  "data": {"name": "rad"},
  "mark": {"type": "line", "color": "#1c1cb0", "strokeWidth": 1.7, "strokeJoin": "round"},
  "encoding": {
    "x": {"field": "d", "type": "temporal",
      "scale": {"type": "utc", "domain": [{"year": 2008, "month": 1, "date": 1, "utc": true}, {"year": 2009, "month": 1, "date": 2, "hours": 20, "utc": true}]},
      "axis": {"title": null, "labels": false, "values": [{"year": 2008, "month": 1, "date": 1, "utc": true}, {"year": 2008, "month": 4, "date": 1, "utc": true}, {"year": 2008, "month": 7, "date": 1, "utc": true}, {"year": 2008, "month": 10, "date": 1, "utc": true}, {"year": 2009, "month": 1, "date": 1, "utc": true}]}},
    "y": {"field": "v", "type": "quantitative", "scale": {"domain": [-90, -20]},
      "axis": {"title": "C.Rad[μrad]", "values": [-80, -60, -40, -20]}},
    "detail": {"field": "s", "type": "nominal"}
  }
},
{
  "width": 1049, "height": 130,
  "data": {"name": "daily"},
  "mark": {"type": "rule", "color": "#2222c4", "strokeWidth": 1.3},
  "encoding": {
    "x": {"field": "d", "type": "temporal",
      "scale": {"type": "utc", "domain": [{"year": 2008, "month": 1, "date": 1, "utc": true}, {"year": 2009, "month": 1, "date": 2, "hours": 20, "utc": true}]},
      "axis": {"title": null, "labels": false, "values": [{"year": 2008, "month": 1, "date": 1, "utc": true}, {"year": 2008, "month": 4, "date": 1, "utc": true}, {"year": 2008, "month": 7, "date": 1, "utc": true}, {"year": 2008, "month": 10, "date": 1, "utc": true}, {"year": 2009, "month": 1, "date": 1, "utc": true}]}},
    "y": {"field": "tl", "type": "quantitative", "scale": {"domain": [8, 16]},
      "axis": {"title": "Temp[°C]", "values": [8, 10, 12, 14, 16]}},
    "y2": {"field": "th"}
  }
},
{
  "width": 1049, "height": 130,
  "data": {"name": "daily"},
  "mark": {"type": "rule", "color": "#2222c4", "strokeWidth": 1.3},
  "encoding": {
    "x": {"field": "d", "type": "temporal",
      "scale": {"type": "utc", "domain": [{"year": 2008, "month": 1, "date": 1, "utc": true}, {"year": 2009, "month": 1, "date": 2, "hours": 20, "utc": true}]},
      "axis": {"title": null, "labelExpr": "utcFormat(datum.value, '%m/%d/%y')", "values": [{"year": 2008, "month": 1, "date": 1, "utc": true}, {"year": 2008, "month": 4, "date": 1, "utc": true}, {"year": 2008, "month": 7, "date": 1, "utc": true}, {"year": 2008, "month": 10, "date": 1, "utc": true}, {"year": 2009, "month": 1, "date": 1, "utc": true}]}},
    "y": {"field": "vl", "type": "quantitative", "scale": {"domain": [5, 25]},
      "axis": {"title": "Voltaje[v]", "values": [5, 10, 15, 20, 25]}},
    "y2": {"field": "vh"}
  }
}
]
}
